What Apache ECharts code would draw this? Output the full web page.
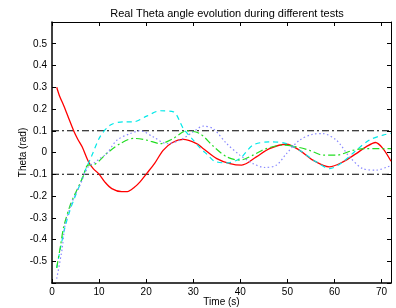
<!DOCTYPE html>
<html>
<head>
<meta charset="utf-8">
<script src="https://cdn.jsdelivr.net/npm/echarts@6/dist/echarts.min.js"></script>
<style>
  html, body { margin: 0; padding: 0; background: #fff; }
  #main { width: 396px; height: 308px; }
</style>
</head>
<body>
<div id="main"></div>
<script>
// time (s) / theta (rad), one pair of arrays per test
var redT = [1, 1.6, 2.5, 3.5, 4.6, 5.5, 6.4, 7.8, 8.8, 9.9, 11.2, 12.7, 14.8, 16, 17.5, 18.7, 20.1, 21.8, 23.6, 25.5, 27.9, 30.7, 32, 35, 37.8, 40.3, 43.4, 46.2, 49.8, 52.6, 55.4, 58.9, 61.8, 64.6, 66.7, 68.7, 70.3, 72];
var redTheta = [0.3, 0.26, 0.215, 0.16, 0.1, 0.06, 0.026, -0.045, -0.075, -0.097, -0.135, -0.166, -0.18, -0.18, -0.16, -0.135, -0.097, -0.05, 0.01, 0.045, 0.06, 0.041, 0.02, -0.028, -0.051, -0.058, -0.02, 0.018, 0.038, 0.01, -0.035, -0.066, -0.043, -0.005, 0.026, 0.046, 0.018, -0.04];

var cyanT = [1, 1.8, 2.8, 3.9, 4.6, 6, 6.7, 7.4, 8.5, 10.2, 12.4, 15.2, 17.3, 20.1, 23, 25.8, 27.9, 30, 31.5, 33, 34.5, 37.1, 39.9, 42.7, 46.2, 49.8, 52.6, 56.1, 59, 61.8, 64.6, 67.4, 70.3, 72];
var cyanTheta = [-0.53, -0.44, -0.34, -0.26, -0.22, -0.143, -0.1, -0.066, -0.012, 0.072, 0.126, 0.141, 0.141, 0.167, 0.192, 0.187, 0.11, 0.057, 0.02, -0.01, -0.04, -0.048, -0.028, 0.034, 0.049, 0.041, 0.01, -0.043, -0.074, -0.043, 0.01, 0.057, 0.08, 0.088];

var greenT = [1, 1.8, 2.5, 3.9, 4.9, 6, 6.7, 7.6, 9, 10.2, 11.6, 14.5, 17.3, 20.1, 23, 25.8, 28.6, 31.4, 34.2, 37.1, 39.9, 42.7, 45.5, 49, 51.9, 54.7, 57.5, 60.4, 63.9, 66.7, 69.5, 72];
var greenTheta = [-0.53, -0.43, -0.34, -0.24, -0.19, -0.14, -0.105, -0.058, -0.055, -0.035, -0.005, 0.041, 0.065, 0.057, 0.041, 0.065, 0.1, 0.087, 0.03, -0.02, -0.035, -0.012, 0.018, 0.034, 0.026, 0.01, -0.012, -0.012, 0.01, 0.018, 0.018, 0.018];

var blueT = [1, 2.1, 2.8, 3.9, 4.9, 6, 6.7, 7.8, 8.8, 10, 11.6, 13.8, 16.6, 18.7, 21.5, 24.4, 27.2, 30, 32.1, 34.2, 37.1, 39.9, 42.7, 45.2, 47.7, 49.8, 52.6, 55.4, 57.5, 60.4, 63.2, 66, 68.9, 71.3, 72];
var blueTheta = [-0.58, -0.45, -0.33, -0.25, -0.195, -0.148, -0.11, -0.062, -0.05, -0.03, -0.005, 0.057, 0.087, 0.1, 0.072, 0.041, 0.057, 0.095, 0.121, 0.11, 0.041, -0.012, -0.051, -0.069, -0.058, -0.005, 0.057, 0.084, 0.087, 0.057, -0.02, -0.074, -0.081, -0.066, -0.06];

var limitLevels = [0.1, -0.1];
var timeRange = [0, 72];

function pairs(ts, vs) {
    return ts.map(function (t, i) { return [t, vs[i]]; });
}

var chart = echarts.init(document.getElementById('main'));
var font = 'Liberation Sans, Arial, Helvetica, sans-serif';
var axisCommon = {
    axisLine: { show: true, onZero: false, lineStyle: { color: '#000', width: 1.5 } },
    axisTick: { show: true, inside: true, length: 4, lineStyle: { color: '#000', width: 1 } },
    splitLine: { show: false }
};

function yLabel(v) {
    if (Math.abs(v) > 0.55) return '';
    var r = Math.round(v * 10) / 10;
    return r === 0 ? '0' : String(r);
}

var series = [
    { name: 'red', data: pairs(redT, redTheta), color: '#ff0000', type: 'solid', width: 1.3 },
    { name: 'cyan', data: pairs(cyanT, cyanTheta), color: '#00e8e8', type: [5, 4], width: 1.2 },
    { name: 'green', data: pairs(greenT, greenTheta), color: '#22dd22', type: [7, 3, 2, 3], width: 1.2 },
    { name: 'blue', data: pairs(blueT, blueTheta), color: '#8888ff', type: [1.5, 2.5], width: 1.2 }
].map(function (s) {
    return {
        name: s.name, type: 'line', data: s.data, showSymbol: false, smooth: 0.3,
        lineStyle: { color: s.color, width: s.width, type: s.type }, z: 3
    };
});

limitLevels.forEach(function (lv, i) {
    series.push({
        name: 'limit' + i, type: 'line', showSymbol: false,
        data: timeRange.map(function (t) { return [t, lv]; }),
        lineStyle: { color: '#000', width: 1, type: [7, 3, 2, 3] }, z: 2
    });
});

var option = {
    animation: false,
    title: {
        text: 'Real Theta angle evolution during different tests',
        left: 222, textAlign: 'center', top: 3,
        textStyle: { fontFamily: font, fontSize: 11, fontWeight: 'normal', color: '#000' }
    },
    grid: { left: 52, right: 5, top: 22, bottom: 25, outerBoundsMode: 'none', containLabel: false },
    xAxis: [
        Object.assign({}, axisCommon, {
            type: 'value', min: 0, max: 72, interval: 10, position: 'bottom',
            name: 'Time (s)', nameLocation: 'middle', nameGap: 14, nameMoveOverlap: false,
            nameTextStyle: { fontFamily: font, fontSize: 10, color: '#000' },
            axisLabel: {
                fontFamily: font, fontSize: 10, color: '#000', margin: 4,
                formatter: function (v) { return v % 10 === 0 ? String(v) : ''; }
            }
        }),
        Object.assign({}, axisCommon, {
            type: 'value', min: 0, max: 72, interval: 10, position: 'top',
            axisLine: { show: true, onZero: false, lineStyle: { color: '#000', width: 1 } },
            axisLabel: { show: false }
        })
    ],
    yAxis: [
        Object.assign({}, axisCommon, {
            type: 'value', min: -0.6, max: 0.6, interval: 0.1, position: 'left',
            name: 'Theta (rad)', nameLocation: 'middle', nameGap: 24, nameMoveOverlap: false,
            nameTextStyle: { fontFamily: font, fontSize: 10, color: '#000' },
            axisLabel: { fontFamily: font, fontSize: 10, color: '#000', margin: 5, formatter: yLabel }
        }),
        Object.assign({}, axisCommon, {
            type: 'value', min: -0.6, max: 0.6, interval: 0.1, position: 'right',
            axisLine: { show: true, onZero: false, lineStyle: { color: '#000', width: 1 } },
            axisLabel: { show: false }
        })
    ],
    series: series
};
chart.setOption(option);
</script>
</body>
</html>
